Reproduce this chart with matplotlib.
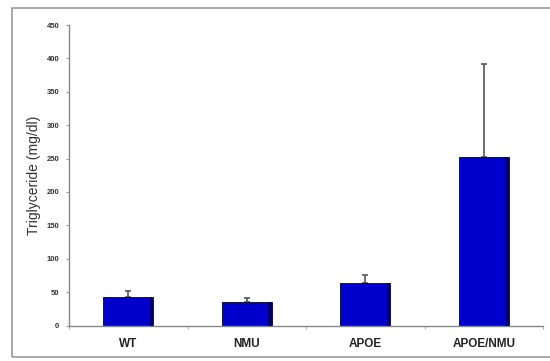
import matplotlib.pyplot as plt
import numpy as np

plt.rcParams['font.family'] = ['Liberation Sans', 'DejaVu Sans']

groups = ['WT', 'NMU', 'APOE', 'APOE/NMU']
tg_mean = [43, 35, 64, 253]
tg_err = [8, 6, 12, 138]
yticks = [0, 50, 100, 150, 200, 250, 300, 350, 400, 450]

fig = plt.figure(figsize=(5.5, 3.61), dpi=100)

# frame around the whole panel
fig.patches.append(plt.Rectangle((12/550, 1-357/361), 580/550, (357-8)/361,
                                 transform=fig.transFigure, fill=False,
                                 edgecolor='#999999', linewidth=1.2))

ax = fig.add_axes([69/550, 1-325.5/361, (543-69)/550, (325.5-25)/361])
x = np.arange(len(groups))

# upper error bars only
ax.errorbar(x, tg_mean, yerr=[np.zeros(len(tg_err)), tg_err], fmt='none',
            ecolor='#555555', elinewidth=1.2, capsize=2, capthick=1.2, zorder=1)
ax.bar(x, tg_mean, width=0.42, color='#0000CC', edgecolor='#000044',
       linewidth=0.6, zorder=2)
# darker shade on the right side of each bar
ax.bar(x + 0.195, tg_mean, width=0.03, color='#000066', linewidth=0, zorder=3)

ax.set_xlim(-0.5, len(groups) - 0.5)
ax.set_ylim(0, 450)
ax.set_yticks(yticks)
ax.set_yticklabels([str(v) for v in yticks], fontsize=5.5, color='#333333',
                   fontweight='bold')
ax.set_xticks(x)
ax.set_xticklabels(groups, fontsize=8.5, fontweight='bold', color='#222222')
ax.tick_params(axis='x', length=0, pad=9)
ax.set_xticks(np.arange(-0.5, len(groups)), minor=True)
ax.tick_params(axis='x', which='minor', length=2, color='#999999')
ax.tick_params(axis='y', length=2, color='#999999', pad=5)
ax.set_ylabel('Triglyceride (mg/dl)', fontsize=10, color='#333333', labelpad=4)

for s in ['top', 'right']:
    ax.spines[s].set_visible(False)
for s in ['left', 'bottom']:
    ax.spines[s].set_color('#888888')
    ax.spines[s].set_linewidth(1.0)

fig.savefig('out.png', dpi=100)
